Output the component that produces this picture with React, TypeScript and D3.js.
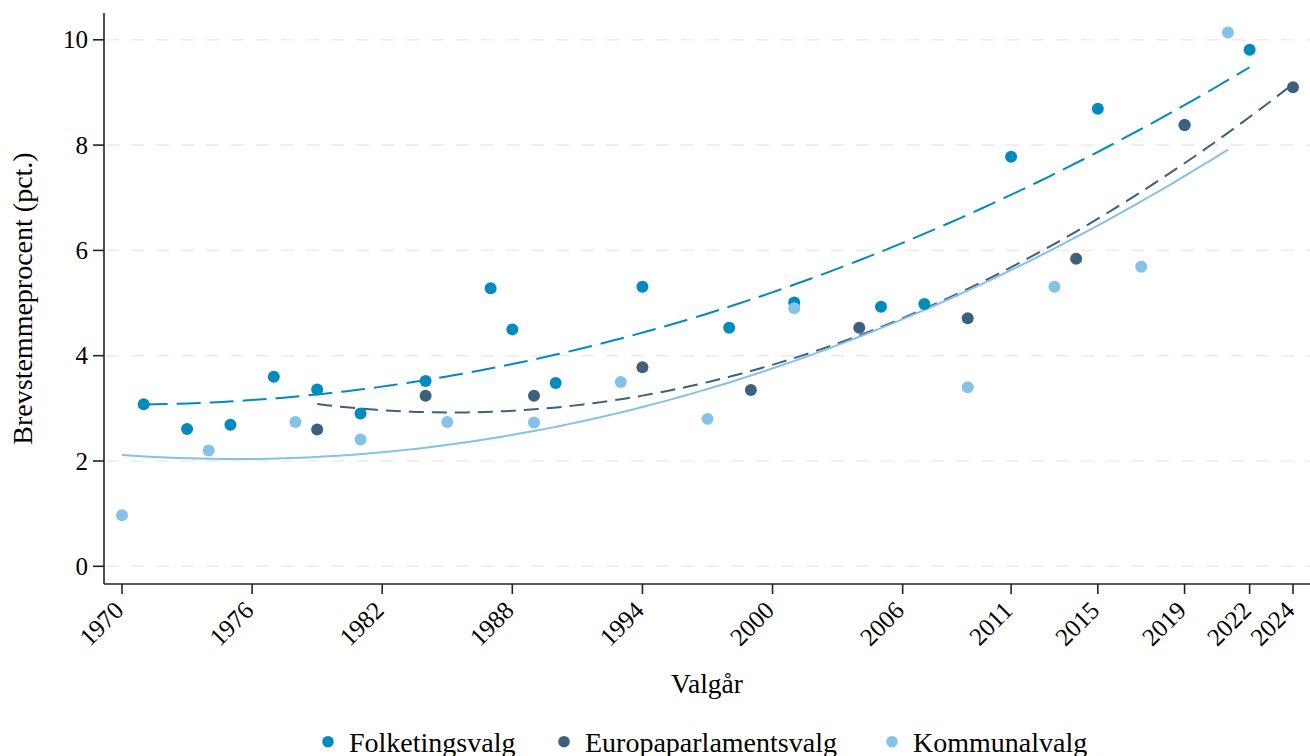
import React from 'react';
import * as d3 from 'd3';

const folkYears = [1971, 1973, 1975, 1977, 1979, 1981, 1984, 1987, 1988, 1990, 1994, 1998, 2001, 2005, 2007, 2011, 2015, 2019, 2022];
const folkValues = [3.08, 2.61, 2.69, 3.6, 3.36, 2.9, 3.52, 5.28, 4.5, 3.48, 5.31, 4.53, 5.01, 4.93, 4.98, 7.78, 8.69, 8.38, 9.81];
const euroYears = [1979, 1984, 1989, 1994, 1999, 2004, 2009, 2014, 2019, 2024];
const euroValues = [2.6, 3.24, 3.24, 3.78, 3.35, 4.53, 4.71, 5.84, 8.38, 9.1];
const kommYears = [1970, 1974, 1978, 1981, 1985, 1989, 1993, 1997, 2001, 2009, 2013, 2017, 2021];
const kommValues = [0.97, 2.2, 2.74, 2.41, 2.74, 2.73, 3.5, 2.8, 4.9, 3.4, 5.31, 5.69, 10.14];

const seriesNames = ['Folketingsvalg', 'Europaparlamentsvalg', 'Kommunalvalg'];
const seriesColors = ['#008BBF', '#3E607D', '#85C1E9'];
const seriesDash = ['24,9', '15,8', ''];

const xTicks = [1970, 1976, 1982, 1988, 1994, 2000, 2006, 2011, 2015, 2019, 2022, 2024];
const yTicks = [0, 2, 4, 6, 8, 10];

const xTitle = 'Valgår';
const yTitle = 'Brevstemmeprocent (pct.)';

const FONT = "'Liberation Serif', 'Times New Roman', serif";

function quadFit(xs: number[], ys: number[]) {
  const m = d3.mean(xs) as number;
  const n = xs.length;
  let s1 = 0, s2 = 0, s3 = 0, s4 = 0, t0 = 0, t1 = 0, t2 = 0;
  xs.forEach((x0, i) => {
    const x = x0 - m;
    const y = ys[i];
    s1 += x; s2 += x * x; s3 += x * x * x; s4 += x * x * x * x;
    t0 += y; t1 += x * y; t2 += x * x * y;
  });
  const A = [[n, s1, s2], [s1, s2, s3], [s2, s3, s4]];
  const B = [t0, t1, t2];
  const det = (M: number[][]) =>
    M[0][0] * (M[1][1] * M[2][2] - M[1][2] * M[2][1]) -
    M[0][1] * (M[1][0] * M[2][2] - M[1][2] * M[2][0]) +
    M[0][2] * (M[1][0] * M[2][1] - M[1][1] * M[2][0]);
  const D = det(A);
  const coef = [0, 1, 2].map((c) => {
    const M = A.map((row, r) => row.map((v, k) => (k === c ? B[r] : v)));
    return det(M) / D;
  });
  return (x0: number) => {
    const x = x0 - m;
    return coef[0] + coef[1] * x + coef[2] * x * x;
  };
}

export default function App() {
  const W = 1310, H = 756;
  const left = 104, right = 1310, top = 13, bottom = 584;
  const x = d3.scaleLinear().domain([1970, 2024]).range([122, 1293]);
  const y = d3.scaleLinear().domain([0, 10]).range([566.3, 39.8]);

  const series = [
    { years: folkYears, values: folkValues },
    { years: euroYears, values: euroValues },
    { years: kommYears, values: kommValues },
  ];

  const line = d3.line<[number, number]>().x((d) => x(d[0])).y((d) => y(d[1]));

  const fits = series.map((s) => {
    const f = quadFit(s.years, s.values);
    const [a, b] = d3.extent(s.years) as [number, number];
    const pts: [number, number][] = d3.range(100).map((i) => {
      const xx = a + ((b - a) * i) / 99;
      return [xx, f(xx)];
    });
    return line(pts) as string;
  });

  const legendX = [328, 564, 892];

  return (
    <svg width={W} height={H} style={{ position: 'absolute', left: 0, top: 0, background: '#fff' }} fontFamily={FONT}>
      <rect x={0} y={0} width={W} height={H} fill="#fff" />
      {yTicks.map((t) => (
        <line key={'g' + t} x1={left + 2} x2={right} y1={y(t)} y2={y(t)} stroke="#ECECEC" strokeWidth={1.6} strokeDasharray="13,12" />
      ))}
      {fits.map((d, i) => (
        <path key={'f' + i} d={d} fill="none" stroke={seriesColors[i]} strokeWidth={2} strokeDasharray={seriesDash[i] || undefined} />
      ))}
      {series.map((s, i) =>
        s.years.map((yr, j) => (
          <circle key={i + '-' + j} cx={x(yr)} cy={y(s.values[j])} r={6} fill={seriesColors[i]} />
        ))
      )}
      <line x1={left} x2={left} y1={top} y2={bottom} stroke="#222" strokeWidth={1.6} />
      <line x1={left} x2={right} y1={bottom} y2={bottom} stroke="#222" strokeWidth={1.6} />
      {yTicks.map((t) => (
        <g key={'yt' + t}>
          <line x1={left - 11} x2={left} y1={y(t)} y2={y(t)} stroke="#222" strokeWidth={1.6} />
          <text x={left - 16} y={y(t)} dy="0.34em" textAnchor="end" fontSize={25} fill="#000">{t}</text>
        </g>
      ))}
      {xTicks.map((t) => (
        <g key={'xt' + t}>
          <line x1={x(t)} x2={x(t)} y1={bottom} y2={bottom + 10} stroke="#222" strokeWidth={1.6} />
          <text transform={`translate(${x(t) + 3},612) rotate(-45)`} textAnchor="end" fontSize={25} fill="#000">{t}</text>
        </g>
      ))}
      <text x={(left + right) / 2} y={693} textAnchor="middle" fontSize={27.5} fill="#000">{xTitle}</text>
      <text transform={`translate(32,${(top + bottom) / 2}) rotate(-90)`} textAnchor="middle" fontSize={28} fill="#000">{yTitle}</text>
      {seriesNames.map((nm, i) => (
        <g key={'lg' + i}>
          <circle cx={legendX[i]} cy={741.7} r={5.8} fill={seriesColors[i]} />
          <text x={legendX[i] + 21} y={752} fontSize={28} fill="#000">{nm}</text>
        </g>
      ))}
    </svg>
  );
}
